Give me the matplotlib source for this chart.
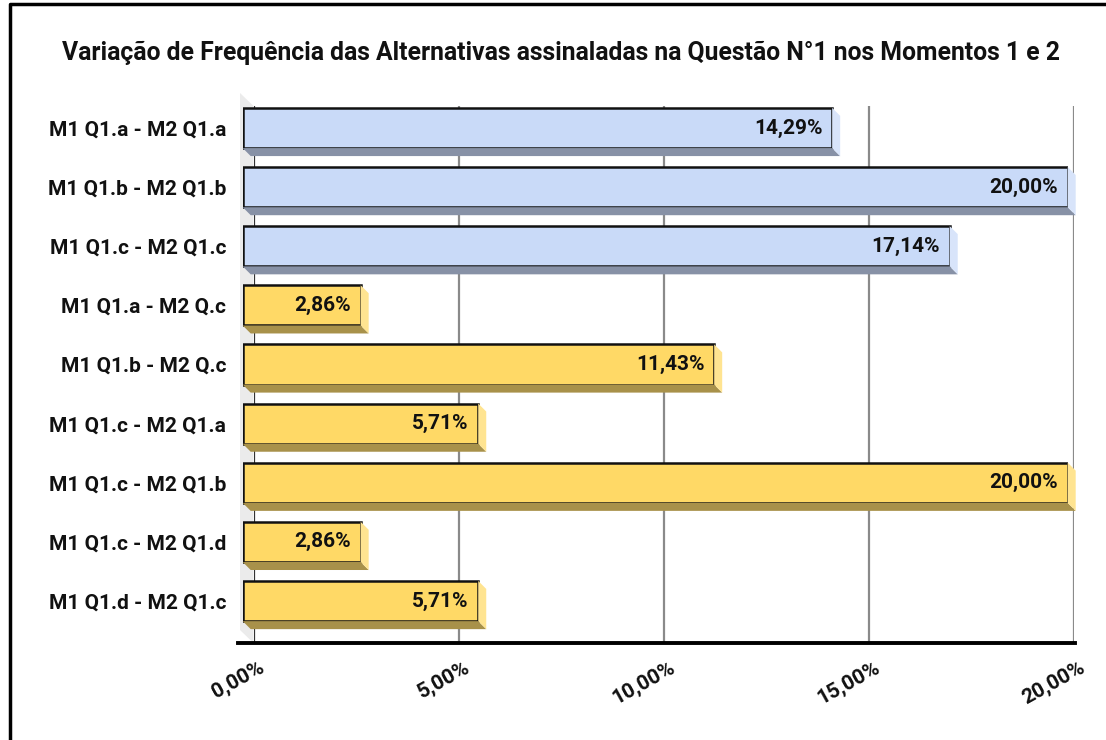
import matplotlib.pyplot as plt
from matplotlib.patches import Polygon
from matplotlib.lines import Line2D
from matplotlib.transforms import ScaledTranslation

# dados
categorias = ['M1 Q1.a - M2 Q1.a', 'M1 Q1.b - M2 Q1.b', 'M1 Q1.c - M2 Q1.c',
              'M1 Q1.a - M2 Q.c', 'M1 Q1.b - M2 Q.c', 'M1 Q1.c - M2 Q1.a',
              'M1 Q1.c - M2 Q1.b', 'M1 Q1.c - M2 Q1.d', 'M1 Q1.d - M2 Q1.c']
valores = [14.29, 20.00, 17.14, 2.86, 11.43, 5.71, 20.00, 2.86, 5.71]
grupo = ['azul', 'azul', 'azul', 'amarelo', 'amarelo', 'amarelo', 'amarelo', 'amarelo', 'amarelo']
ticks = [0, 5, 10, 15, 20]
tick_labels = ['0,00%', '5,00%', '10,00%', '15,00%', '20,00%']
titulo = 'Variação de Frequência das Alternativas assinaladas na Questão N°1 nos Momentos 1 e 2'

cores = {
    'azul': ('#c9daf8', '#d8e4fa', '#8791a6'),      # frente, lado, baixo
    'amarelo': ('#ffd966', '#ffe491', '#a8914a'),
}

plt.rcParams['font.family'] = ['Roboto', 'DejaVu Sans']
W, H = 1106, 740
fig = plt.figure(figsize=(W / 100, H / 100), dpi=100)

def fx(px):
    return px / W

def fy(py):
    return 1 - py / H

# plano de fundo (grade, parede, chao)
ax_back = fig.add_axes([fx(253.5), fy(643), fx(1074 - 253.5), (643 - 106) / H])
ax_back.set_xlim(0, 20)
ax_back.set_ylim(0, 1)
ax_back.set_yticks([])
ax_back.set_xticks(ticks)
ax_back.set_xticklabels(tick_labels, rotation=29, ha='right', va='top',
                        rotation_mode='anchor', fontsize=15, fontweight='semibold', color='#111111')
ax_back.tick_params(axis='x', length=0, pad=11)
for s in ax_back.spines.values():
    s.set_visible(False)
for t in ticks:
    ax_back.axvline(t, color='#333333' if t == 0 else '#8a8a8a', lw=1.6, zorder=1)
ax_back.patch.set_alpha(0)

# deslocamento dos rotulos do eixo x
for lab in ax_back.get_xticklabels():
    lab.set_transform(lab.get_transform() + ScaledTranslation(5 / 100, 0, fig.dpi_scale_trans))

# parede lateral esquerda
dxw, dyw = -13.5, 13
wall = Polygon([(fx(253.5), fy(106)), (fx(253.5), fy(643)),
                (fx(253.5 + dxw), fy(643 - dyw)), (fx(253.5 + dxw), fy(106 - dyw))],
               closed=True, facecolor='#ebebeb', edgecolor='none', transform=fig.transFigure, zorder=0)
fig.add_artist(wall)
fig.add_artist(Line2D([fx(238), fx(1075)], [fy(643), fy(643)], color='black', lw=2.8,
                      transform=fig.transFigure, zorder=1))

# barras (plano frontal)
ax = fig.add_axes([fx(242.7), fy(630.6), fx(1067.7 - 242.7), (630.6 - 98.4) / H])
ax.patch.set_alpha(0)
ax.set_xlim(0, 20)
ax.set_ylim(len(categorias) - 0.5, -0.5)
for s in ax.spines.values():
    s.set_visible(False)
ax.set_xticks([])
ax.set_yticks(range(len(categorias)))
ax.set_yticklabels(categorias, fontsize=15, fontweight='bold', color='#111111')
ax.tick_params(axis='y', length=0, pad=12)

frente = [cores[g][0] for g in grupo]
bars = ax.barh(range(len(categorias)), valores, height=0.68, color=frente,
               edgecolor='#111111', linewidth=1.8, zorder=3)

fig.canvas.draw()
inv = fig.transFigure.inverted()
d = 8
for b, g, v in zip(bars, grupo, valores):
    _, lado, baixo = cores[g]
    (x0, y0), (x1, y1) = b.get_window_extent().get_points()
    pts_baixo = [(x0, y0), (x1, y0), (x1 + d, y0 - d), (x0 + d, y0 - d)]
    pts_lado = [(x1, y1), (x1 + d, y1 - d), (x1 + d, y0 - d), (x1, y0)]
    for pts, c in ((pts_baixo, baixo), (pts_lado, lado)):
        fig.add_artist(Polygon(inv.transform(pts), closed=True, facecolor=c, edgecolor='none',
                               transform=fig.transFigure, zorder=1.5))
    ax.annotate(f'{v:.2f}%'.replace('.', ','), xy=(v, b.get_y() + b.get_height() / 2),
                xytext=(-7, 0), textcoords='offset points', ha='right', va='center',
                fontsize=15, fontweight='bold', color='#111111', zorder=5)

fig.text(0.5073, fy(53), titulo, ha='center', va='center', fontsize=17.8, fontweight='bold', color='#111111')

# moldura (cortada a direita e embaixo)
fig.add_artist(Line2D([fx(10), fx(10), fx(1200)], [fy(800), fy(4), fy(4)], color='black', lw=2.5,
                      transform=fig.transFigure))

fig.savefig('out.png', dpi=100)
